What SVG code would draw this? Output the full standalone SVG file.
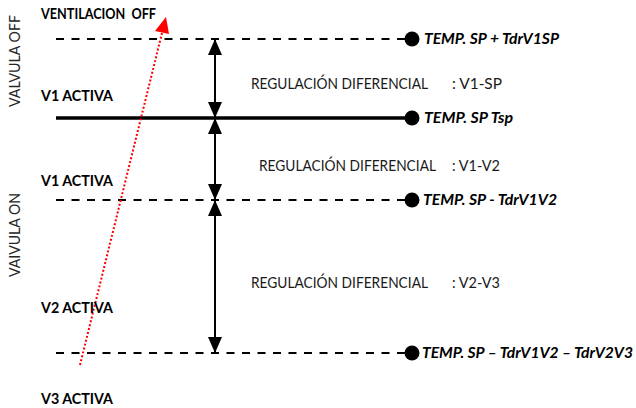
<svg xmlns="http://www.w3.org/2000/svg" width="636" height="408" viewBox="0 0 636 408">
<style>
.lbl{font-family:Lato,"Open Sans","Liberation Sans",sans-serif;font-weight:bold;font-size:15px;fill:#000;white-space:pre}
.reg{font-family:Lato,"Open Sans","Liberation Sans",sans-serif;font-size:15px;fill:#1a1a1a}
.side{font-family:Lato,"Open Sans","Liberation Sans",sans-serif;font-size:16px;fill:#262626}
.tmp{font-family:Lato,"Open Sans","Liberation Sans",sans-serif;font-weight:bold;font-style:italic;font-size:15.5px;fill:#000}
.dash{stroke:#000;stroke-width:1.8;stroke-dasharray:8 7.5;fill:none}
.solid{stroke:#000;stroke-width:3.5;fill:none}
.varrow{stroke:#000;stroke-width:2;fill:none}
.dot{fill:#000}
</style>
<defs>
<marker id="ah" viewBox="0 0 16 14" refX="16" refY="7" markerWidth="16" markerHeight="14" markerUnits="userSpaceOnUse" orient="auto-start-reverse">
<path d="M0,0 L16,7 L0,14 Z" fill="#000"/>
</marker>
</defs>
<g id="levels">
<line class="dash" x1="56" y1="39" x2="406" y2="39"/>
<line class="solid" x1="56" y1="118" x2="406" y2="118"/>
<line class="dash" x1="56" y1="200" x2="406" y2="200"/>
<line class="dash" x1="56" y1="353" x2="406" y2="353"/>
</g>
<g id="node-sp-plus">
<circle class="dot" cx="412" cy="39" r="7.5"/>
<text class="tmp" x="424" y="44" textLength="135" lengthAdjust="spacingAndGlyphs">TEMP. SP + TdrV1SP</text>
</g>
<g id="node-sp">
<circle class="dot" cx="412" cy="118" r="7.5"/>
<text class="tmp" x="424" y="123" textLength="89" lengthAdjust="spacingAndGlyphs">TEMP. SP Tsp</text>
</g>
<g id="node-sp-v1v2">
<circle class="dot" cx="412" cy="200" r="7.5"/>
<text class="tmp" x="423" y="205" textLength="134" lengthAdjust="spacingAndGlyphs">TEMP. SP - TdrV1V2</text>
</g>
<g id="node-sp-v2v3">
<circle class="dot" cx="412" cy="353" r="7.5"/>
<text class="tmp" x="422" y="358" textLength="211" lengthAdjust="spacingAndGlyphs">TEMP. SP – TdrV1V2 – TdrV2V3</text>
</g>
<g id="connectors">
<line class="varrow" x1="215" y1="39" x2="215" y2="118" marker-start="url(#ah)" marker-end="url(#ah)"/>
<line class="varrow" x1="215" y1="118" x2="215" y2="200" marker-start="url(#ah)" marker-end="url(#ah)"/>
<line class="varrow" x1="215" y1="200" x2="215" y2="353" marker-start="url(#ah)" marker-end="url(#ah)"/>
<line x1="80" y1="365" x2="162" y2="33" stroke="#ff0000" stroke-width="2" stroke-dasharray="2 2"/>
<polygon points="166,17 169,34 155,31" fill="#ff0000"/>
</g>
<g id="region-1">
<text class="reg" x="251" y="89" textLength="177" lengthAdjust="spacingAndGlyphs">REGULACIÓN DIFERENCIAL</text>
<text class="reg" x="452" y="89" textLength="50" lengthAdjust="spacingAndGlyphs">: V1-SP</text>
</g>
<g id="region-2">
<text class="reg" x="259" y="171" textLength="177" lengthAdjust="spacingAndGlyphs">REGULACIÓN DIFERENCIAL</text>
<text class="reg" x="452" y="171" textLength="48" lengthAdjust="spacingAndGlyphs">: V1-V2</text>
</g>
<g id="region-3">
<text class="reg" x="251" y="288" textLength="177" lengthAdjust="spacingAndGlyphs">REGULACIÓN DIFERENCIAL</text>
<text class="reg" x="452" y="288" textLength="48" lengthAdjust="spacingAndGlyphs">: V2-V3</text>
</g>
<g id="state-labels">
<text class="lbl" x="41" y="19" textLength="115" lengthAdjust="spacingAndGlyphs" xml:space="preserve">VENTILACION  OFF</text>
<text class="lbl" x="41" y="101" textLength="72" lengthAdjust="spacingAndGlyphs">V1 ACTIVA</text>
<text class="lbl" x="41" y="186" textLength="72" lengthAdjust="spacingAndGlyphs">V1 ACTIVA</text>
<text class="lbl" x="41" y="313" textLength="72" lengthAdjust="spacingAndGlyphs">V2 ACTIVA</text>
<text class="lbl" x="41" y="404" textLength="72" lengthAdjust="spacingAndGlyphs">V3 ACTIVA</text>
</g>
<g id="side-labels">
<text class="side" transform="translate(20,61) rotate(-90)" text-anchor="middle" textLength="92" lengthAdjust="spacingAndGlyphs">VALVULA OFF</text>
<text class="side" transform="translate(20,235) rotate(-90)" text-anchor="middle" textLength="84" lengthAdjust="spacingAndGlyphs">VAIVULA ON</text>
</g>
</svg>
